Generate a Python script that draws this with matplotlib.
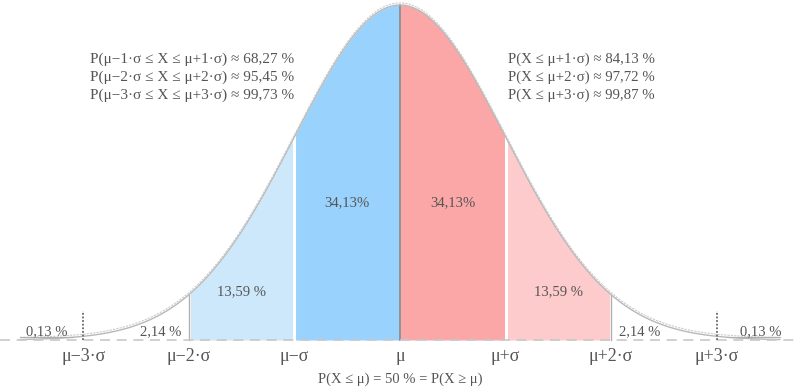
import matplotlib.pyplot as plt
import numpy as np

# normal curve with sigma bands (x in units of sigma)
band_edges = [-2, -1, 0, 1, 2]
band_colors = ["#cde7fb", "#99d2fc", "#fca7a7", "#fdcbcb"]
band_labels = ["13,59 %", "34,13%", "34,13%", "13,59 %"]
band_label_y = [0.057, 0.164, 0.164, 0.057]

tick_pos = [-3, -2, -1, 0, 1, 2, 3]
tick_labels = ["μ−3·σ", "μ−2·σ", "μ−σ", "μ", "μ+σ", "μ+2·σ", "μ+3·σ"]

tail_labels = ["0,13 %", "2,14 %", "2,14 %", "0,13 %"]
tail_pos = [-3.35, -2.27, 2.27, 3.42]

left_text = ["P(μ−1·σ ≤ X ≤ μ+1·σ) ≈ 68,27 %",
             "P(μ−2·σ ≤ X ≤ μ+2·σ) ≈ 95,45 %",
             "P(μ−3·σ ≤ X ≤ μ+3·σ) ≈ 99,73 %"]
right_text = ["P(X ≤ μ+1·σ) ≈ 84,13 %",
              "P(X ≤ μ+2·σ) ≈ 97,72 %",
              "P(X ≤ μ+3·σ) ≈ 99,87 %"]
bottom_text = "P(X ≤ μ) = 50 % = P(X ≥ μ)"

plt.rcParams['font.family'] = ['Liberation Serif', 'DejaVu Serif']
txt = "#555555"

def pdf(x):
    return np.exp(-x**2 / 2) / np.sqrt(2 * np.pi)

fig = plt.figure(figsize=(8, 3.92), dpi=100)
ax = fig.add_axes([0, 0, 1, 1])
ax.set_xlim(-3.79, 3.79)
ax.set_ylim(-0.0619, 0.4049)
ax.axis("off")

for i in range(4):
    xs = np.linspace(band_edges[i], band_edges[i + 1], 200)
    ax.fill_between(xs, 0, pdf(xs), color=band_colors[i], lw=0)
    ax.text((band_edges[i] + band_edges[i + 1]) / 2, band_label_y[i], band_labels[i],
            ha="center", va="center", fontsize=10.5, color=txt)

# white gaps between bands, dark line at the mean
for e in [-2, -1, 1, 2]:
    ax.plot([e, e], [0, pdf(e)], color="white", lw=2.2)
for e in [-2, 2]:
    ax.plot([e, e], [0, pdf(e)], color="#b0b0b0", lw=1)
ax.plot([0, 0], [0, pdf(0)], color="#888888", lw=1.2)

# curve outline (double line look)
xc = np.linspace(-3.6, 3.6, 800)
ax.plot(xc, pdf(xc), color="#b8b8b8", lw=1.0)
ax.plot(xc, pdf(xc) + 0.0025, color="#cccccc", lw=0.8, ls=(0, (2, 1)))

# baseline
ax.plot([-3.79, 3.79], [0, 0], color="#c8c8c8", lw=1.2, ls=(0, (6, 4)))
ax.plot([-3.6, -3.1], [0.004, 0.004], color="#b0b0b0", lw=0.8)
ax.plot([3.1, 3.6], [0.004, 0.004], color="#b0b0b0", lw=0.8)

# dotted markers at +-3 sigma
for e in [-3, 3]:
    ax.plot([e, e], [0.0, 0.035], color="#666666", lw=1.3, ls=(0, (1, 1)))

for p, lab in zip(tail_pos, tail_labels):
    ax.text(p, 0.01, lab, ha="center", va="center", fontsize=10.5, color=txt)

for p, lab in zip(tick_pos, tick_labels):
    ax.text(p, -0.0195, lab, ha="center", va="center", fontsize=13, color=txt)

ax.text(0, -0.0465, bottom_text, ha="center", va="center", fontsize=10.5, color=txt)

for k, s in enumerate(left_text):
    ax.text(-1.0, 0.3346 - k * 0.0214, s, ha="right", va="center", fontsize=11, color=txt)
for k, s in enumerate(right_text):
    ax.text(1.02, 0.3346 - k * 0.0214, s, ha="left", va="center", fontsize=10.7, color=txt)

fig.savefig("out.png", dpi=100)
